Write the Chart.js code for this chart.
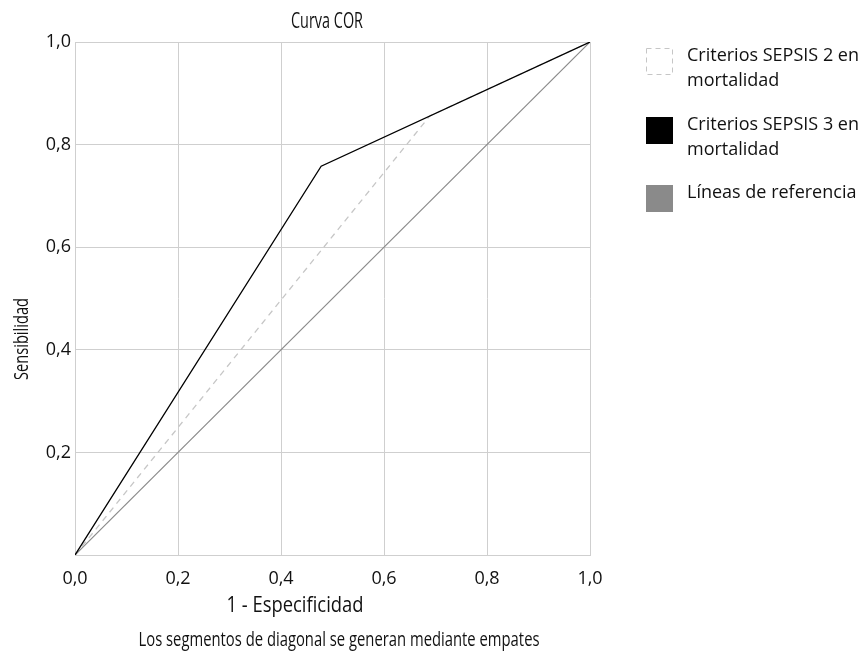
<!DOCTYPE html>
<html>
<head>
<meta charset="utf-8">
<script src="https://cdn.jsdelivr.net/npm/chart.js@4"></script>
<style>
  html, body { margin: 0; padding: 0; background: #fff; }
  #wrap { width: 868px; height: 657px; position: relative; }
</style>
</head>
<body>
<div id="wrap"><canvas id="rocChart"></canvas></div>
<script>
const sepsis2 = [
  { x: 0, y: 0 },
  { x: 0.689, y: 0.856 },
  { x: 1, y: 1 }
];
const sepsis3 = [
  { x: 0, y: 0 },
  { x: 0.478, y: 0.758 },
  { x: 1, y: 1 }
];
const reference = [
  { x: 0, y: 0 },
  { x: 1, y: 1 }
];
const legendLines = [
  ["Criterios SEPSIS 2 en", "mortalidad"],
  ["Criterios SEPSIS 3 en", "mortalidad"],
  ["Líneas de referencia"]
];
const titleText = "Curva COR";
const xTitle = "1 - Especificidad";
const yTitle = "Sensibilidad";
const footText = "Los segmentos de diagonal se generan mediante empates";

const regular = '"Open Sans", "Noto Sans", sans-serif';
const fmt = (v) => v.toFixed(1).replace(".", ",");

// condensed text, squeezed to a given width
function narrowText(ctx, text, x, y, size, width) {
  ctx.save();
  ctx.font = size + "px " + regular;
  const w = ctx.measureText(text).width;
  ctx.translate(x, y);
  ctx.scale(width / w, 1);
  ctx.fillText(text, 0, 0);
  ctx.restore();
}

const textPlugin = {
  id: "texts",
  afterDraw(chart) {
    const ctx = chart.ctx;
    ctx.save();
    ctx.fillStyle = "#111";
    ctx.textAlign = "center";
    ctx.textBaseline = "middle";
    narrowText(ctx, titleText, 327, 22, 21, 72);
    narrowText(ctx, xTitle, 295, 606, 22, 137);
    narrowText(ctx, footText, 339, 640, 20, 401);
    ctx.save();
    ctx.translate(22, 339);
    ctx.rotate(-Math.PI / 2);
    narrowText(ctx, yTitle, 0, 0, 20, 82);
    ctx.restore();

    // legend
    const boxes = [48, 117, 185];
    ctx.textAlign = "left";
    ctx.font = "18px " + regular;
    chart.data.datasets.forEach((ds, i) => {
      const top = boxes[i];
      if (ds.borderDash && ds.borderDash.length) {
        ctx.save();
        ctx.strokeStyle = ds.borderColor;
        ctx.lineWidth = 1;
        ctx.setLineDash([5, 4]);
        ctx.strokeRect(646.5, top + 0.5, 26, 26);
        ctx.restore();
      } else {
        ctx.fillStyle = ds.borderColor;
        ctx.fillRect(646, top, 27, 27);
      }
      ctx.fillStyle = "#111";
      legendLines[i].forEach((line, j) => {
        ctx.fillText(line, 687, top + 8 + j * 25);
      });
    });
    ctx.restore();
  }
};

new Chart(document.getElementById("rocChart"), {
  type: "scatter",
  data: {
    datasets: [
      {
        label: legendLines[0].join(" "),
        data: sepsis2,
        showLine: true,
        borderColor: "#c6c6c6",
        borderWidth: 1.3,
        borderDash: [6, 5],
        pointRadius: 0,
        order: 3
      },
      {
        label: legendLines[1].join(" "),
        data: sepsis3,
        showLine: true,
        borderColor: "#000000",
        borderWidth: 1.3,
        pointRadius: 0,
        order: 1
      },
      {
        label: legendLines[2].join(" "),
        data: reference,
        showLine: true,
        borderColor: "#8a8a8a",
        borderWidth: 1.2,
        pointRadius: 0,
        order: 2
      }
    ]
  },
  options: {
    responsive: true,
    maintainAspectRatio: false,
    animation: false,
    layout: { padding: { left: 0, top: 42, right: 278, bottom: 0 } },
    plugins: {
      legend: { display: false },
      tooltip: { enabled: false }
    },
    scales: {
      x: {
        type: "linear",
        min: 0,
        max: 1,
        afterFit: (s) => { s.height = 102; },
        ticks: {
          stepSize: 0.2,
          padding: 13,
          color: "#111",
          font: { family: regular, size: 18 },
          callback: (v) => fmt(v)
        },
        grid: { color: "#cfcfcf", drawTicks: false, lineWidth: 1 },
        border: { color: "#cfcfcf" }
      },
      y: {
        type: "linear",
        min: 0,
        max: 1,
        afterFit: (s) => { s.width = 75; },
        ticks: {
          stepSize: 0.2,
          padding: 4,
          color: "#111",
          font: { family: regular, size: 18 },
          callback: (v) => (v === 0 ? "" : fmt(v))
        },
        grid: { color: "#cfcfcf", drawTicks: false, lineWidth: 1 },
        border: { color: "#cfcfcf" }
      }
    }
  },
  plugins: [textPlugin]
});
</script>
</body>
</html>
